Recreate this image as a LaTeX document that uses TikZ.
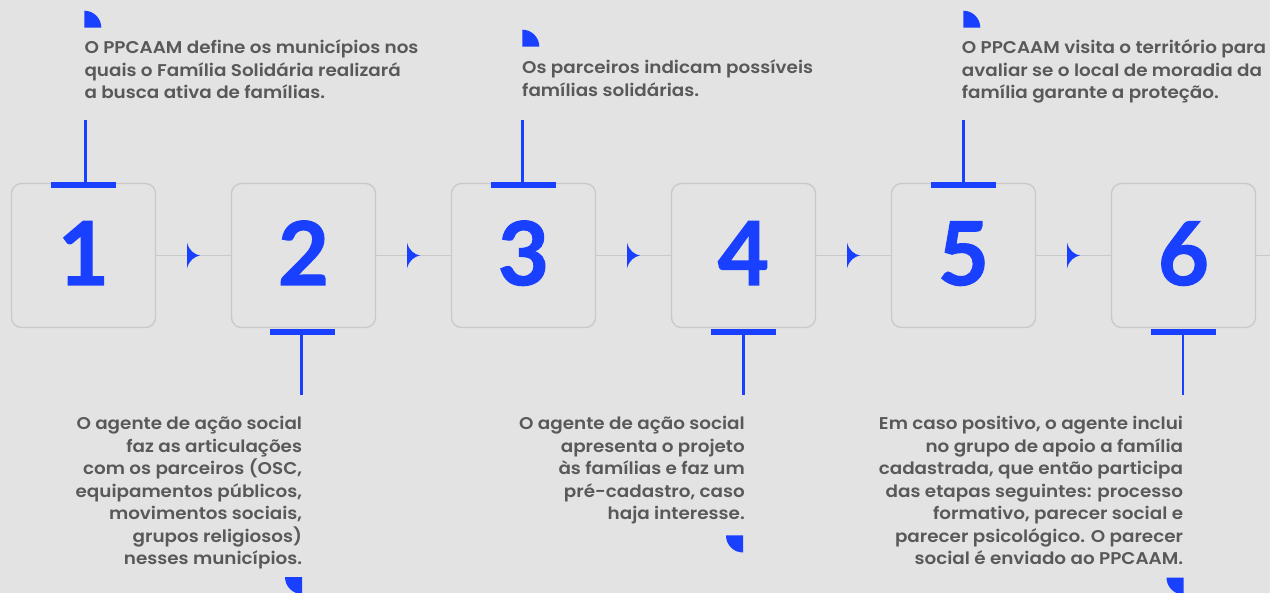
\documentclass[tikz,border=0pt]{standalone}
\usepackage{fontspec}
\setmainfont{Poppins}[BoldFont={Poppins SemiBold}, BoldFeatures={FakeStretch=1.08}]
\newfontfamily\numfont{Lato}[BoldFeatures={FakeBold=1.4}]
\usetikzlibrary{calc}
\definecolor{bg}{HTML}{E3E3E3}
\definecolor{frame}{HTML}{C9C9C9}
\definecolor{accent}{HTML}{1A40FF}
\definecolor{txt}{HTML}{595959}
\begin{document}
\begin{tikzpicture}[x=1pt,y=-1pt,
  stepbox/.style={draw=frame, line width=1.3pt, rounded corners=10pt, minimum width=144pt, minimum height=144pt, inner sep=0pt, fill=bg},
  num/.style={font=\numfont\bfseries\fontsize{88}{88}\selectfont, text=accent, inner sep=0pt, anchor=base},
  link/.style={draw=frame, line width=1.3pt},
  stem/.style={draw=accent, line width=2.5pt},
  bar/.style={fill=accent},
  desc/.style={font=\bfseries\fontsize{17}{22.5}\selectfont, text=txt, inner sep=0pt},
  ahead/.pic={\fill[accent] (-6.5,-13) .. controls (-4.5,-5) and (1,-1) .. (6.5,0) .. controls (1,1) and (-4.5,5) .. (-6.5,13) -- cycle;}
]
\useasboundingbox (0,0) rectangle (1270,593);
\fill[bg] (0,0) rectangle (1270,593);

% boxes
\node[stepbox] (b1) at (83.5,255.5) {};
\node[stepbox] (b2) at (303.5,255.5) {};
\node[stepbox] (b3) at (523.5,255.5) {};
\node[stepbox] (b4) at (743.5,255.5) {};
\node[stepbox] (b5) at (963.5,255.5) {};
\node[stepbox] (b6) at (1183.5,255.5) {};
\coordinate (rend) at (1270,255.5);

% connectors
\draw[link] (b1.east) -- (b2.west);
\draw[link] (b2.east) -- (b3.west);
\draw[link] (b3.east) -- (b4.west);
\draw[link] (b4.east) -- (b5.west);
\draw[link] (b5.east) -- (b6.west);
\draw[link] (b6.east) -- (rend);
\pic at ($(b1.east)!0.5!(b2.west)$) {ahead};
\pic at ($(b2.east)!0.5!(b3.west)$) {ahead};
\pic at ($(b3.east)!0.5!(b4.west)$) {ahead};
\pic at ($(b4.east)!0.5!(b5.west)$) {ahead};
\pic at ($(b5.east)!0.5!(b6.west)$) {ahead};

% numbers
\node[num] (n1) at (83.5,285) {1};
\node[num] (n2) at (303.5,285) {2};
\node[num] (n3) at (523.5,285) {3};
\node[num] (n4) at (743.5,285) {4};
\node[num] (n5) at (963.5,285) {5};
\node[num] (n6) at (1183.5,285) {6};

% top markers
\fill[bar] (51,182) rectangle (116,188);
\draw[stem] (85.5,120) -- (85.5,182);
\fill[bar] (491,182) rectangle (556,188);
\draw[stem] (522.7,120) -- (522.7,182);
\fill[bar] (931,182) rectangle (996,188);
\draw[stem] (963.5,120) -- (963.5,182);

% bottom markers
\fill[bar] (270,329) rectangle (335,335);
\draw[stem] (301.5,335) -- (301.5,395);
\fill[bar] (711,329) rectangle (776,335);
\draw[stem] (743.5,335) -- (743.5,395);
\fill[bar] (1151,329) rectangle (1216,335);
\draw[stem] (1183,335) -- (1183,395);

% quarter discs
\fill[accent] (84.3,27.7) -- ++(17,0) arc[start angle=0,end angle=90,radius=17pt] -- cycle;
\fill[accent] (522.3,46.7) -- ++(17,0) arc[start angle=0,end angle=90,radius=17pt] -- cycle;
\fill[accent] (963.3,27.7) -- ++(17,0) arc[start angle=0,end angle=90,radius=17pt] -- cycle;
\fill[accent] (302,577) -- ++(-17,0) arc[start angle=180,end angle=270,radius=17pt] -- cycle;
\fill[accent] (743,535.5) -- ++(-17,0) arc[start angle=180,end angle=270,radius=17pt] -- cycle;
\fill[accent] (1183.5,577.5) -- ++(-17,0) arc[start angle=180,end angle=270,radius=17pt] -- cycle;

% texts (anchor base = baseline of the last line)
\node[desc, anchor=base west, align=left] (t1) at (84.3,99) {O PPCAAM define os municípios nos\\quais o Família Solidária realizará\\a busca ativa de famílias.};
\node[desc, anchor=base west, align=left] (t3) at (522,96.5) {Os parceiros indicam possíveis\\famílias solidárias.};
\node[desc, anchor=base west, align=left] (t5) at (961.7,99) {O PPCAAM visita o território para\\avaliar se o local de moradia da\\família garante a proteção.};
\node[desc, anchor=base east, align=right] (t2) at (302.3,565) {O agente de ação social\\faz as articulações\\com os parceiros (OSC,\\equipamentos públicos,\\movimentos sociais,\\grupos religiosos)\\nesses municípios.};
\node[desc, anchor=base east, align=right] (t4) at (745,520) {O agente de ação social\\apresenta o projeto\\às famílias e faz um\\pré-cadastro, caso\\haja interesse.};
\node[desc, anchor=base east, align=right] (t6) at (1183.3,565) {Em caso positivo, o agente inclui\\no grupo de apoio a família\\cadastrada, que então participa\\das etapas seguintes: processo\\formativo, parecer social e\\parecer psicológico. O parecer\\social é enviado ao PPCAAM.};
\end{tikzpicture}
\end{document}
